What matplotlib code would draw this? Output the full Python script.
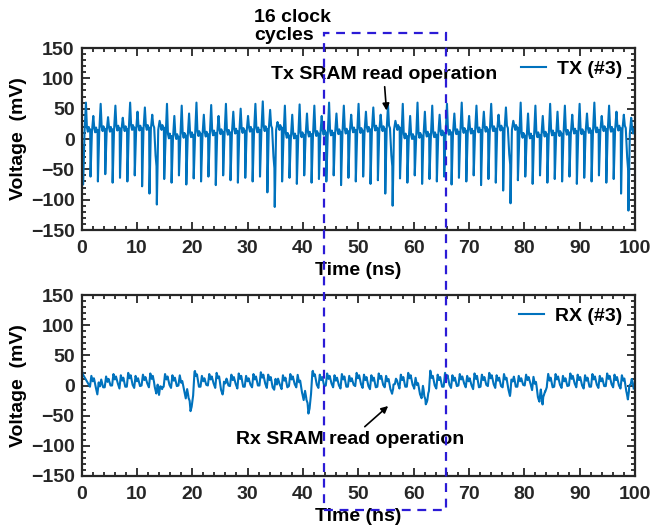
import numpy as np
import matplotlib
matplotlib.use("Agg")
import matplotlib.pyplot as plt
from matplotlib.patches import Rectangle
from matplotlib.ticker import MultipleLocator
import matplotlib.transforms as mtransforms

plt.rcParams['font.family'] = ['Liberation Sans', 'DejaVu Sans']
plt.rcParams['font.weight'] = 'bold'

# ---------------- data ----------------
CLOCK_PERIOD = 21.3 / 16        # ns, 16 clock cycles between SRAM reads
FIRST_EDGE = 0.3                # ns

# TX: per clock cycle positive / negative spike peaks and baseline (mV)
tx_pos = [60, 38, 58, 36, 55, 35, 60, 45, 52, 40, 30, 58, 38, 55, 42, 60,
          40, 56, 38, 58, 45, 50, 38, 58, 62, 48, 28, 55, 40, 57, 42, 55,
          38, 60, 42, 55, 40, 58, 45, 52, 40, 56, 30, 58, 38, 60, 45, 55,
          40, 58, 42, 60, 38, 55, 45, 58, 40, 52, 30, 60, 42, 55, 38, 58,
          45, 55, 40, 58, 42, 60, 38, 55, 45, 40, 35]
tx_neg = [-75, -62, -70, -58, -72, -64, -70, -60, -78, -90, -108, -66, -72, -60, -75, -65,
          -70, -62, -76, -60, -68, -72, -64, -70, -62, -88, -112, -70, -64, -74, -60, -72,
          -66, -70, -60, -76, -64, -70, -62, -74, -68, -90, -110, -65, -72, -60, -74, -66,
          -70, -62, -75, -64, -70, -60, -76, -66, -72, -85, -106, -68, -62, -74, -60, -72,
          -66, -70, -62, -74, -64, -70, -60, -72, -66, -90, -118]
tx_base = [15, 14, 16, 15, 17, 16, 18, 17, 18, 19, 18,
           4, 3, 5, 6, 8, 7, 9, 11, 10, 12, 13, 15, 14, 16, 18, 18,
           5, 4, 6, 7, 8, 10, 9, 11, 12, 14, 13, 15, 17, 16, 18, 18,
           4, 3, 5, 7, 6, 9, 10, 11, 13, 12, 14, 15, 16, 17, 18, 18,
           5, 4, 6, 7, 9, 8, 10, 12, 11, 13, 14, 16, 15, 17, 18, 12]
tx_read_cycles = [10, 26, 42, 58, 74]
tx_read_droop = [-45, -48, -45, -42, -50]

# RX: per clock cycle ripple high / low (mV)
rx_hi = [18, 16, 20, 15, 19, 17, 21, 16, 18, 20, 15, 19, 17, 20, 18, 22,
         16, 19, 21, 17, 18, 20, 16, 19, 22, 18, 20, 17, 19, 21, 16, 22,
         18, 20, 17, 19, 16, 21, 18, 17, 20, 16, 19, 18, 21, 17, 24, 20,
         18, 21, 17, 19, 16, 20, 18, 21, 17, 19, 20, 16, 18, 21, 24, 17,
         19, 16, 20, 18, 17, 19, 16, 20, 18, 17, 19]
rx_lo = [-4, -2, -6, -3, 0, -5, -2, -4, 0, -3, -6, -2, -4, 0, -3, -5,
         -2, 0, -4, -3, -1, -5, -2, -3, 0, -4, -2, -6, -1, -3, -5, -2,
         -4, 0, -3, -5, -2, -1, -4, -6, -2, -3, 0, -5, -2, -4, -1, -3,
         -5, -2, -4, 0, -3, -6, -2, -1, -4, -3, -5, -2, 0, -4, -3, -6,
         -2, -4, 0, -3, -5, -2, -4, -1, -3, -5, -8]
rx_read_times = [19.7, 41.0, 62.2, 83.3]
rx_read_depth = [-50, -52, -48, -48]
rx_xtalk_times = [3.2, 14.0, 25.6, 35.2, 56.3, 77.5, 98.9]
rx_xtalk_depth = [-18, -22, -15, -12, -20, -15, -22]

# ---------------- waveform construction ----------------
n_cycles = len(tx_pos)

tx_t, tx_v = [0.0], [18.0]
for k in range(n_cycles):
    tn = FIRST_EDGE + k * CLOCK_PERIOD
    b = tx_base[k]
    tx_t += [tn, tn + 0.25, tn + 0.5, tn + 0.68]
    tx_v += [tx_neg[k], b - 3, tx_pos[k], b + 4]
    if (k + 1) in tx_read_cycles:
        d = tx_read_droop[tx_read_cycles.index(k + 1)]
        tx_t += [tn + 0.85, tn + 1.1, tn + 1.27]
        tx_v += [b, d * 0.6, d]
    else:
        tx_t += [tn + 0.85, tn + 1.0, tn + 1.15, tn + 1.27]
        tx_v += [b - 3, b + 5, b - 2, b + 1]
tx_t = np.array(tx_t)
tx_v = np.array(tx_v, dtype=float)
keep = tx_t <= 100
tx_t = np.append(tx_t[keep], 100.0)
tx_v = np.append(tx_v[keep], 14.0)

RX_PHASE = 0.6
rip_t, rip_v = [0.0, 0.15], [38.0, 20.0]
for k in range(n_cycles):
    t0 = FIRST_EDGE + k * CLOCK_PERIOD + RX_PHASE - 0.7
    if t0 < 0.3:
        continue
    hi, lo = rx_hi[k], rx_lo[k]
    rip_t += [t0, t0 + 0.25, t0 + 0.5, t0 + 0.7, t0 + 1.05]
    rip_v += [lo, hi, hi - 9, hi - 4, lo + 3]
rip_t = np.array(rip_t)
rip_v = np.array(rip_v, dtype=float)

big_tpl_t = np.array([-2.2, -1.6, -1.1, -0.7, -0.4, -0.15, 0.0, 0.2, 0.45, 0.8, 1.2])
big_tpl_v = np.array([0.0, -0.15, -0.25, -0.45, -0.55, -0.8, -1.0, -0.7, -0.25, 0.1, 0.0])
small_tpl_t = np.array([-0.9, -0.4, -0.1, 0.0, 0.3, 0.7])
small_tpl_v = np.array([0.0, -0.4, -0.8, -1.0, -0.4, 0.0])

grid = [rip_t]
for td in rx_read_times:
    grid.append(big_tpl_t + td)
for td in rx_xtalk_times:
    grid.append(small_tpl_t + td)
rx_t = np.unique(np.clip(np.concatenate(grid), 0, 100))
rx_v = np.interp(rx_t, rip_t, rip_v)
for td, dep in zip(rx_read_times, rx_read_depth):
    rx_v += np.interp(rx_t, big_tpl_t + td, big_tpl_v * (-dep), left=0, right=0)
for td, dep in zip(rx_xtalk_times, rx_xtalk_depth):
    rx_v += np.interp(rx_t, small_tpl_t + td, small_tpl_v * (-dep), left=0, right=0)

# ---------------- figure ----------------
W, H = 652, 531
fig = plt.figure(figsize=(W / 100, H / 100), dpi=100)
ax1 = fig.add_axes([81.5 / W, 1 - 230 / H, 553.5 / W, 182 / H])
ax2 = fig.add_axes([81.5 / W, 1 - 476 / H, 553.5 / W, 181 / H])

LINE = '#0072BD'
FRAME = '#262626'
FS = 14

ax1.plot(tx_t, tx_v, color=LINE, lw=1.5, label='TX (#3)')
ax2.plot(rx_t, rx_v, color=LINE, lw=1.5, label='RX (#3)')

for ax in (ax1, ax2):
    ax.set_xlim(0, 100)
    ax.set_ylim(-150, 150)
    ax.xaxis.set_major_locator(MultipleLocator(10))
    ax.xaxis.set_minor_locator(MultipleLocator(2))
    ax.yaxis.set_major_locator(MultipleLocator(50))
    ax.yaxis.set_minor_locator(MultipleLocator(10))
    ax.tick_params(which='both', direction='in', top=True, right=True,
                   colors=FRAME, labelsize=FS, width=1.3)
    ax.tick_params(which='major', length=6)
    ax.tick_params(which='minor', length=3)
    ax.tick_params(axis='x', which='major', pad=7)
    ax.tick_params(axis='y', which='major', pad=5)
    for lab in ax.get_xticklabels() + ax.get_yticklabels():
        lab.set_fontweight('bold')
    for sp in ax.spines.values():
        sp.set_linewidth(1.6)
        sp.set_color(FRAME)
    ax.set_xlabel('Time (ns)', fontsize=FS, fontweight='bold', labelpad=4)
    ax.set_ylabel('Voltage  (mV)', fontsize=FS, fontweight='bold', labelpad=3)
    ax.legend(loc='upper right', frameon=False, handlelength=1.3,
              handletextpad=0.55, borderaxespad=0.25,
              prop={'weight': 'bold', 'size': FS})

ax1.annotate('Tx SRAM read operation', xy=(55.1, 47), xytext=(54.6, 107),
             ha='center', va='center', fontsize=FS, fontweight='bold',
             arrowprops=dict(arrowstyle='-|>', color='black', lw=1.2,
                             mutation_scale=10, shrinkA=1, shrinkB=0))
ax2.annotate('Rx SRAM read operation', xy=(55.4, -34), xytext=(48.5, -90),
             ha='center', va='center', fontsize=FS, fontweight='bold',
             arrowprops=dict(arrowstyle='-|>', color='black', lw=1.2,
                             mutation_scale=10, shrinkA=2, shrinkB=0))

fig.text(254 / W, 1 - 9 / H, '16 clock\ncycles', ha='left', va='top',
         fontsize=FS, fontweight='bold', linespacing=1.05)

trans = mtransforms.blended_transform_factory(ax1.transData, fig.transFigure)
box = Rectangle((43.9, 1 - 510 / H), 65.8 - 43.9, (510 - 33) / H,
                transform=trans, fill=False, edgecolor='#2B1BD6', lw=1.6,
                linestyle=(0, (4, 3)), clip_on=False, zorder=10)
fig.add_artist(box)

fig.savefig('out.png', dpi=100)
